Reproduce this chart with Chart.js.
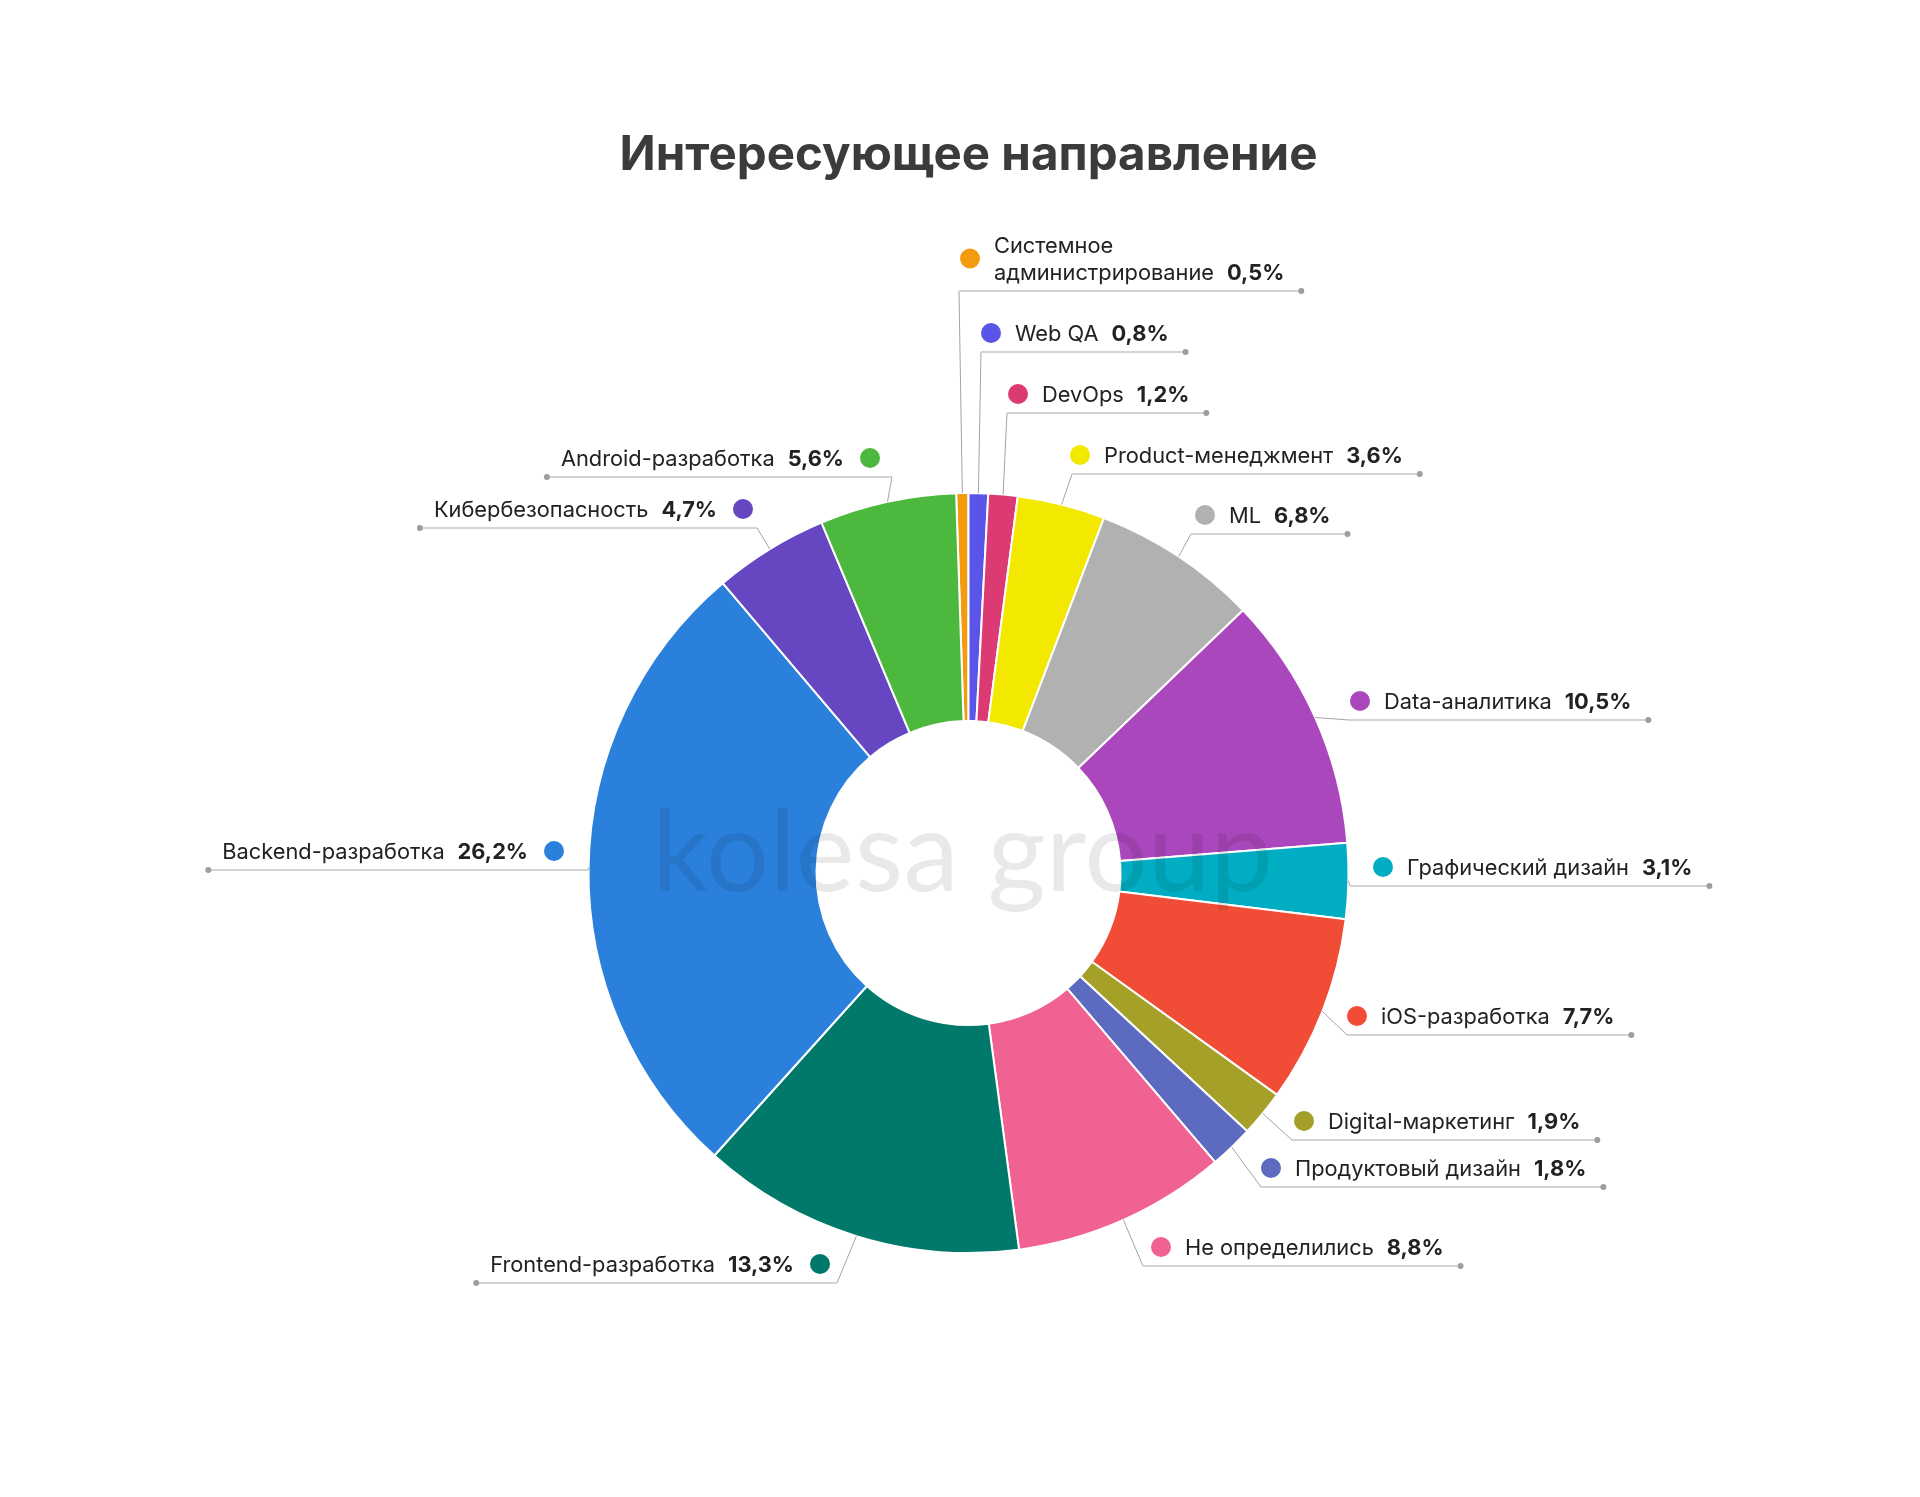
<!DOCTYPE html>
<html>
<head>
<meta charset="utf-8">
<script src="https://cdn.jsdelivr.net/npm/chart.js@4.4.1/dist/chart.umd.min.js"></script>
<style>
  html, body { margin: 0; padding: 0; background: #fff; }
  #wrap { width: 1920px; height: 1497px; }
</style>
</head>
<body>
<div id="wrap"><canvas id="directionChart" width="1920" height="1497"></canvas></div>
<script>
// clockwise from 12 o'clock
const categories = [
    "Системное администрирование", "Web QA", "DevOps", "Product-менеджмент", "ML",
    "Data-аналитика", "Графический дизайн", "iOS-разработка", "Digital-маркетинг",
    "Продуктовый дизайн", "Не определились", "Frontend-разработка", "Backend-разработка",
    "Кибербезопасность", "Android-разработка"
];
const values = [0.5, 0.8, 1.2, 3.6, 6.8, 10.5, 3.1, 7.7, 1.9, 1.8, 8.8, 13.3, 26.2, 4.7, 5.6];
const colors = [
    "#f29b0f", "#5a55e8", "#dc3a73", "#f3e800", "#b1b1b1",
    "#aa47bc", "#00adc2", "#f14d36", "#a4a028", "#5c6bc0",
    "#f06292", "#00796b", "#2b80dc", "#6647c1", "#4db83e"
];

// callout placement: side, marker x, underline y, elbow x
const callouts = [
    { side: "right", x: 970, y: 291, elbow: 959, wrap: true },
    { side: "right", x: 991, y: 352, elbow: 981 },
    { side: "right", x: 1018, y: 413, elbow: 1007 },
    { side: "right", x: 1080, y: 474, elbow: 1072 },
    { side: "right", x: 1205, y: 534, elbow: 1191 },
    { side: "right", x: 1360, y: 720, elbow: 1349 },
    { side: "right", x: 1383, y: 886, elbow: 1350 },
    { side: "right", x: 1357, y: 1035, elbow: 1347 },
    { side: "right", x: 1304, y: 1140, elbow: 1292 },
    { side: "right", x: 1271, y: 1187, elbow: 1261 },
    { side: "right", x: 1161, y: 1266, elbow: 1143 },
    { side: "left", x: 820, y: 1283, elbow: 837 },
    { side: "left", x: 554, y: 870, elbow: 588 },
    { side: "left", x: 743, y: 528, elbow: 757 },
    { side: "left", x: 870, y: 477, elbow: 892 }
];

const total = values.reduce((a, b) => a + b, 0);
const fmt = v => v.toFixed(1).replace(".", ",") + "%";

const calloutPlugin = {
    id: "callouts",
    afterDatasetsDraw(chart) {
        const ctx = chart.ctx;
        const meta = chart.getDatasetMeta(0);
        const nameFont = "400 21.8px Inter";
        const pctFont = "700 21.8px Inter";

        ctx.save();
        // watermark over the ring
        const c = meta.data[0].getProps(["x", "y"], true);
        ctx.font = "400 112px Lato";
        ctx.fillStyle = "rgba(0, 0, 0, 0.085)";
        ctx.textAlign = "center";
        ctx.textBaseline = "alphabetic";
        ctx.fillText("kolesa group", c.x - 6, c.y + 18);

        ctx.textAlign = "left";
        meta.data.forEach((arc, i) => {
            const p = arc.getProps(["x", "y", "startAngle", "endAngle", "outerRadius"], true);
            const mid = (p.startAngle + p.endAngle) / 2;
            const ax = p.x + Math.cos(mid) * p.outerRadius;
            const ay = p.y + Math.sin(mid) * p.outerRadius;
            const L = callouts[i];
            const pct = fmt(values[i]);

            ctx.font = nameFont;
            let lines = [categories[i]];
            if (L.wrap) {
                const cut = categories[i].indexOf(" ");
                lines = [categories[i].slice(0, cut), categories[i].slice(cut + 1)];
            }
            const last = lines[lines.length - 1];
            const nameW = ctx.measureText(last).width;
            ctx.font = pctFont;
            const pctW = ctx.measureText(pct).width;
            const gap = 13;
            const midY = L.y - 19;
            const markerY = L.wrap ? midY - 13.5 : midY;

            let nameX, lineFrom, lineTo;
            if (L.side === "right") {
                nameX = L.x + 24;
                lineFrom = L.elbow;
                lineTo = nameX + nameW + gap + pctW + 17;
            } else {
                nameX = L.x - 26 - pctW - gap - nameW;
                lineFrom = nameX - 14;
                lineTo = L.elbow;
            }

            // leader from slice
            ctx.strokeStyle = "#a3a3a3";
            ctx.lineWidth = 1;
            ctx.beginPath();
            ctx.moveTo(ax, ay);
            ctx.lineTo(L.elbow, L.y);
            ctx.stroke();

            // underline
            ctx.strokeStyle = "#c6c6c6";
            ctx.lineWidth = 1.6;
            ctx.beginPath();
            ctx.moveTo(lineFrom, L.y);
            ctx.lineTo(lineTo, L.y);
            ctx.stroke();

            ctx.fillStyle = "#9e9e9e";
            ctx.beginPath();
            ctx.arc(L.side === "right" ? lineTo : lineFrom, L.y, 3, 0, Math.PI * 2);
            ctx.fill();

            // marker
            ctx.fillStyle = colors[i];
            ctx.beginPath();
            ctx.arc(L.x, markerY, 10, 0, Math.PI * 2);
            ctx.fill();

            // text
            ctx.fillStyle = "#222222";
            ctx.textBaseline = "alphabetic";
            ctx.font = nameFont;
            const base = midY + 7.8;
            if (lines.length > 1) ctx.fillText(lines[0], nameX, base - 27);
            ctx.fillText(last, nameX, base);
            ctx.font = pctFont;
            ctx.fillText(pct, nameX + nameW + gap, base);
        });
        ctx.restore();
    }
};

function draw() {
    const ctx = document.getElementById("directionChart").getContext("2d");
    new Chart(ctx, {
        type: "doughnut",
        data: {
            labels: categories,
            datasets: [{
                data: values,
                backgroundColor: colors,
                borderColor: "#ffffff",
                borderWidth: 2
            }]
        },
        options: {
            responsive: false,
            animation: false,
            cutout: "40%",
            rotation: -values[0] / total * 360,
            layout: { padding: { left: 587, right: 570, top: 0, bottom: 243 } },
            plugins: {
                legend: { display: false },
                tooltip: { enabled: false },
                title: {
                    display: true,
                    text: "Интересующее направление",
                    color: "#3b3b3b",
                    font: { family: "Inter", size: 47.5, weight: "700" },
                    padding: { top: 127, bottom: 308 }
                }
            }
        },
        plugins: [calloutPlugin]
    });
}

Promise.all([
    document.fonts.load("400 21.8px Inter"),
    document.fonts.load("700 21.8px Inter"),
    document.fonts.load("400 112px Lato")
]).then(draw, draw);
</script>
</body>
</html>
